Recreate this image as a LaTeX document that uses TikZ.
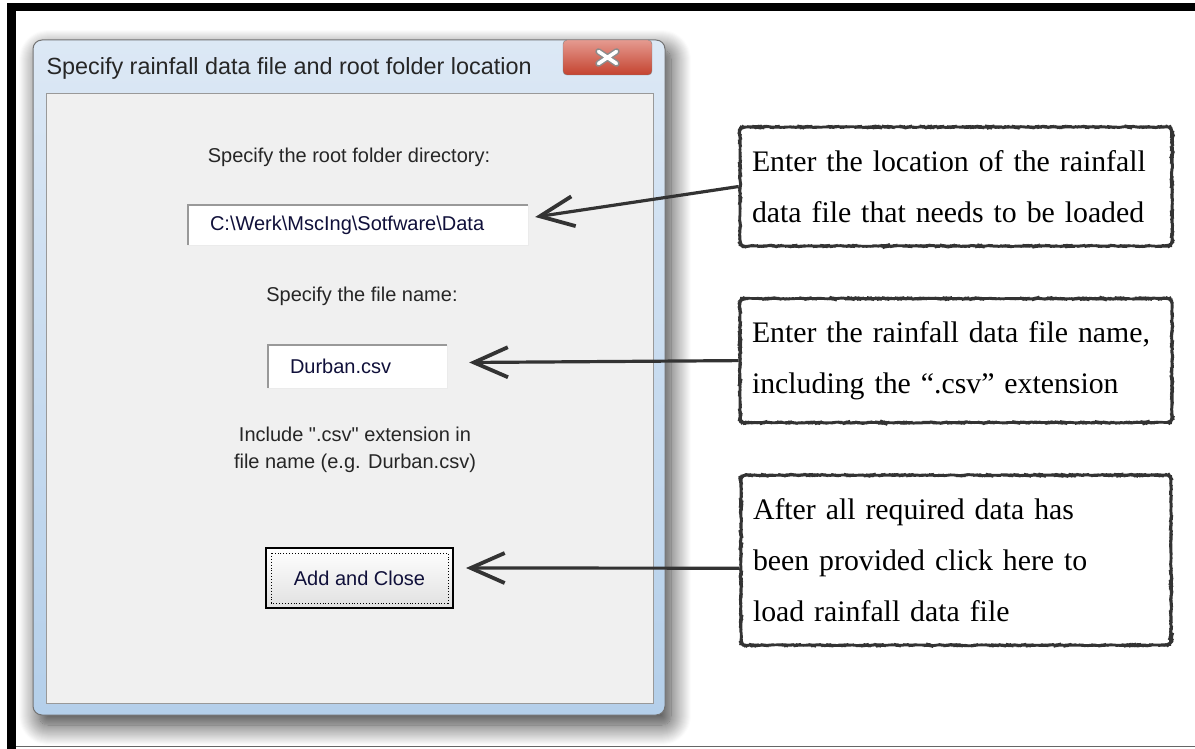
\documentclass[tikz,border=0pt]{standalone}
\usepackage{fontspec}
\setmainfont{Liberation Serif}
\setsansfont{Liberation Sans}
\usetikzlibrary{shapes,arrows.meta,positioning,calc,shadows.blur,decorations.pathmorphing}
\definecolor{glasstop}{HTML}{DCE8F5}
\definecolor{glassblue}{HTML}{B4CFEA}
\definecolor{clientgrey}{HTML}{F0F0F0}
\definecolor{closered}{HTML}{C4432F}
\definecolor{closepink}{HTML}{E59A90}
\definecolor{pencil}{HTML}{333333}
\definecolor{fieldtext}{HTML}{10103A}
\tikzstyle{dialog} = [rectangle, draw=black!55, line width=1pt, rounded corners=9pt,
    top color=glasstop, bottom color=glassblue, minimum width=632pt, minimum height=675pt,
    blur shadow={shadow xshift=6pt, shadow yshift=-10pt, shadow blur radius=20pt,
    shadow blur steps=20, shadow opacity=80}]
\tikzstyle{client} = [rectangle, draw=black!40, fill=clientgrey, line width=0.8pt,
    minimum width=607pt, minimum height=610pt]
\tikzstyle{closebtn} = [rectangle, draw=black!50, rounded corners=4pt, top color=closepink,
    bottom color=closered, minimum width=89pt, minimum height=35pt]
\tikzstyle{titletext} = [font=\sffamily\fontsize{23.4}{27}\selectfont, text=black!85]
\tikzstyle{dlgtext} = [font=\sffamily\fontsize{20}{27}\selectfont, text=black!85, align=center]
\tikzstyle{field} = [rectangle, fill=white, draw=black!8, font=\sffamily\fontsize{20}{24}\selectfont,
    text=fieldtext, align=left, inner xsep=22pt, minimum height=40pt]
\tikzstyle{sunken} = [draw=black!40, line width=2.5pt]
\tikzstyle{button} = [rectangle, draw=black, line width=2pt, top color=white, bottom color=black!12,
    font=\sffamily\fontsize{20}{24}\selectfont, text=fieldtext, minimum width=187pt, minimum height=60pt]
\tikzstyle{note} = [rectangle, draw=pencil, line width=2.6pt, rounded corners=5pt, fill=white,
    decorate, decoration={random steps, segment length=2.5pt, amplitude=0.5pt},
    font=\rmfamily\fontsize{29.8}{51}\selectfont, align=left, inner xsep=12pt]
\tikzstyle{pointer} = [draw=pencil, line width=3.2pt,
    -{Straight Barb[length=34pt, width=30pt, line width=3.8pt]}]

\begin{document}
\begin{tikzpicture}[x=1pt, y=-1pt]
\useasboundingbox (0,0) rectangle (1195,749);
\fill [black] (7,3) rectangle (1195,11);
\fill [black] (7,3) rectangle (16,749);
\draw [black!60, line width=1pt] (16,746) -- (1195,746);

\node [dialog] (dialog) at (349,377.5) {};
\node [client] (client) at (349.5,398) {};
\node [closebtn] (close) at (607.5,57.5) {};
\draw [black!45, line width=6.5pt, line cap=round]
    ($(close.center)+(-9,-6)$) -- ($(close.center)+(9,6)$)
    ($(close.center)+(-9,6)$) -- ($(close.center)+(9,-6)$);
\draw [white, line width=3.5pt, line cap=round]
    ($(close.center)+(-9,-6)$) -- ($(close.center)+(9,6)$)
    ($(close.center)+(-9,6)$) -- ($(close.center)+(9,-6)$);
\node [titletext, anchor=west] (title) at (43,68) {Specify rainfall data file and root folder location};

\node [dlgtext] (rootlabel) at (349,157) {Specify the root folder directory:};
\node [field, text width=296pt] (rootfield) at (358,225)
    {C:\textbackslash Werk\textbackslash MscIng\textbackslash Sotfware\textbackslash Data};
\draw [sunken] (rootfield.south west) -- (rootfield.north west) -- (rootfield.north east);
\node [dlgtext] (filelabel) at (362,296) {Specify the file name:};
\node [field, text width=135pt, minimum height=43pt] (filefield) at (357.5,366.5) {Durban.csv};
\draw [sunken] (filefield.south west) -- (filefield.north west) -- (filefield.north east);
\node [dlgtext] (hint) at (355,450)
    {Include \textquotedbl.csv\textquotedbl{} extension in\\file name (e.g. Durban.csv)};
\node [button] (addclose) at (359.5,578) {Add and Close};
\draw [dotted, line width=0.9pt] ([shift={(6,6)}]addclose.north west) rectangle ([shift={(-6,-6)}]addclose.south east);

\node [note, text width=408pt, minimum height=119pt] (rootnote) at (956,186.5)
    {Enter the location of the rainfall\\data file that needs to be loaded};
\node [note, text width=408pt, minimum height=124pt, below=50pt of rootnote] (filenote)
    {Enter the rainfall data file name,\\including the “.csv” extension};
\node [note, text width=406pt, minimum height=170pt, below=50pt of filenote] (closenote)
    {After all required data has\\been provided click here to\\load rainfall data file};

\path [pointer] (rootnote.west) -- ($(rootfield.east)+(7,-8)$);
\path [pointer] (filenote.west) -- ($(filefield.east)+(22,-4)$);
\path [pointer] ($(closenote.west)+(0,8)$) -- ($(addclose.east)+(12,-10)$);
\end{tikzpicture}
\end{document}
